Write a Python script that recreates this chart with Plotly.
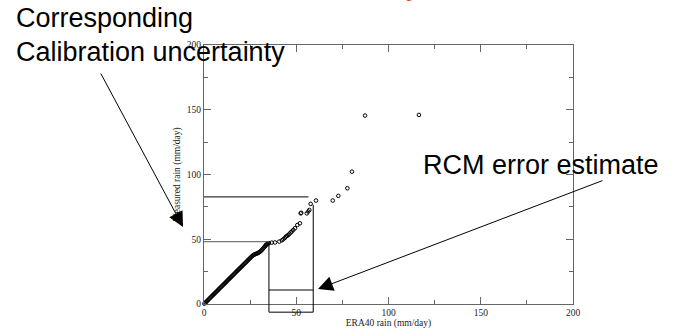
import plotly.graph_objects as go

# ---- data ----
era40 = [0.2, 0.6, 1.0, 1.5, 2.0, 2.5, 3.0, 3.5, 4.0, 4.5, 5.0, 5.5, 6.0, 6.5, 7.0, 7.5,
         8.0, 8.5, 9.0, 9.5, 10.0, 10.5, 11.0, 11.5, 12.0, 12.5, 13.0, 13.5, 14.0, 14.5,
         15.0, 15.5, 16.0, 16.5, 17.0, 17.5, 18.0, 18.5, 19.0, 19.5, 20.0, 20.5, 21.0,
         21.5, 22.0, 22.5, 23.0, 23.5, 24.0, 24.5, 25.0, 25.5, 26.0, 26.5, 27.0, 27.5,
         28.0, 28.5, 29.0, 29.5, 30.0, 30.5, 31.0, 31.5, 32.0, 32.5, 33.0, 33.3, 33.6,
         34.0, 34.4, 34.8, 35.2,
         36.7, 38.5, 40.8, 42.2, 43.0, 43.8, 44.4, 45.0, 45.7, 46.3, 47.0, 47.6, 48.4,
         49.3, 50.6, 52.0, 52.4, 52.7, 55.7, 56.5, 57.1, 57.8, 60.7, 69.8, 72.8, 77.7,
         80.2, 87.3, 116.5]
measured = [0.3, 0.8, 1.4, 2.1, 2.8, 3.5, 4.3, 5.0, 5.7, 6.4, 7.1, 7.8, 8.5, 9.2, 9.9, 10.6,
            11.4, 12.1, 12.8, 13.5, 14.2, 14.9, 15.6, 16.3, 17.0, 17.8, 18.5, 19.2, 19.9,
            20.6, 21.3, 22.0, 22.7, 23.4, 24.2, 24.9, 25.6, 26.3, 27.0, 27.7, 28.4, 29.1,
            29.8, 30.5, 31.2, 31.9, 32.6, 33.4, 34.1, 34.8, 35.5, 36.2, 36.9, 37.5, 38.0,
            38.3, 38.6, 38.9, 39.2, 39.6, 40.0, 40.5, 41.2, 42.0, 42.8, 43.6, 44.4, 45.0,
            45.6, 46.1, 46.5, 46.8, 47.0,
            47.4, 47.5, 48.2, 49.2, 50.0, 51.0, 52.0, 52.6, 53.3, 54.2, 55.2, 56.0, 57.2,
            58.5, 61.0, 62.3, 70.0, 70.4, 70.0, 71.4, 72.6, 77.3, 79.9, 79.9, 83.5, 89.4,
            102.2, 145.5, 146.0]

x_ticks = [0, 50, 100, 150, 200]
y_ticks = [0, 50, 100, 150, 200]

# calibration / error-estimate guide values (data units)
calib_high = 82.7      # horizontal line level, upper
calib_low = 48.1       # horizontal line level, lower
era_low = 35.2         # vertical line x, lower
era_high = 59.2        # vertical line x, upper
err_box_top = 10.8     # top of error box
below_axis = -6.3      # bottom of guides (below axis)

X_RANGE = [0, 200]
Y_RANGE = [0, 200]
Y_DOMAIN = [0, 1]


def ypaper(v):
    return Y_DOMAIN[0] + (v - Y_RANGE[0]) / (Y_RANGE[1] - Y_RANGE[0]) * (Y_DOMAIN[1] - Y_DOMAIN[0])


fig = go.Figure()
fig.add_trace(go.Scatter(
    x=era40, y=measured, mode="markers",
    marker=dict(symbol="circle-open", size=3.6, color="black", line=dict(width=1.0, color="black")),
    showlegend=False, hoverinfo="skip", cliponaxis=False))

line_k = dict(color="black", width=1)
shapes = [
    dict(type="line", xref="x", yref="y", x0=0, x1=era_high - 2.6, y0=calib_high, y1=calib_high, line=line_k),
    dict(type="line", xref="x", yref="y", x0=0, x1=era_low, y0=calib_low, y1=calib_low,
         line=dict(color="#555", width=1)),
    dict(type="line", xref="x", yref="y", x0=era_low, x1=era_high, y0=err_box_top, y1=err_box_top, line=line_k),
    dict(type="line", xref="x", yref="paper", x0=era_low, x1=era_low, y0=ypaper(calib_low - 1.0),
         y1=ypaper(below_axis), line=line_k),
    dict(type="line", xref="x", yref="paper", x0=era_high, x1=era_high, y0=ypaper(calib_high - 6.2),
         y1=ypaper(below_axis), line=line_k),
    dict(type="line", xref="x", yref="paper", x0=era_low, x1=era_high, y0=ypaper(below_axis),
         y1=ypaper(below_axis), line=line_k),
]

W, H = 681, 330
ML, MR, MT, MB = 204, 108, 45, 26
PW, PH = W - ML - MR, H - MT - MB


def px(xp):
    return (xp - ML) / PW


def py(yp):
    return (H - MB - yp) / PH


big = dict(family="Liberation Sans, Arial", size=27, color="black")
annotations = [
    dict(text="Corresponding", xref="paper", yref="paper", x=px(14), y=py(18),
         xanchor="left", yanchor="middle", showarrow=False, font=big),
    dict(text="Calibration uncertainty", xref="paper", yref="paper", x=px(14), y=py(52),
         xanchor="left", yanchor="middle", showarrow=False, font=big),
    dict(text="RCM error estimate", xref="paper", yref="paper", x=px(421), y=py(165),
         xanchor="left", yanchor="middle", showarrow=False, font=big),
    dict(text="y", xref="paper", yref="paper", x=px(404), y=py(-13.5),
         xanchor="left", yanchor="middle", showarrow=False,
         font=dict(family="Liberation Sans, Arial", size=27, color="#e04a1a")),
    # arrows
    dict(text="", xref="paper", yref="paper", x=px(183), y=py(227), axref="pixel", ayref="pixel",
         ax=100 - 183, ay=72 - 227, showarrow=True, arrowhead=2, arrowsize=3, arrowwidth=1,
         arrowcolor="black", standoff=0),
    dict(text="", xref="paper", yref="paper", x=px(318), y=py(289), axref="pixel", ayref="pixel",
         ax=604 - 318, ay=180 - 289, showarrow=True, arrowhead=2, arrowsize=3, arrowwidth=1,
         arrowcolor="black", standoff=0),
]

axis_common = dict(
    showgrid=False, zeroline=False, showline=True, mirror="ticks", linecolor="#666", linewidth=1,
    ticks="inside", ticklen=7, tickcolor="#666", tickwidth=1, automargin=False,
    tickfont=dict(family="Liberation Serif, Times New Roman", size=9.5, color="#222"),
    minor=dict(ticks="inside", ticklen=4, tickcolor="#666", dtick=25),
)

fig.update_layout(
    width=W, height=H, margin=dict(l=ML, r=MR, t=MT, b=MB, pad=0),
    paper_bgcolor="white", plot_bgcolor="white",
    shapes=shapes, annotations=annotations, showlegend=False,
    xaxis=dict(range=X_RANGE, tickvals=x_ticks, ticktext=[str(v) for v in x_ticks],
               title=dict(text="ERA40 rain (mm/day)", standoff=0,
                          font=dict(family="Liberation Serif, Times New Roman", size=9.5, color="#222")),
               **axis_common),
    yaxis=dict(range=Y_RANGE, domain=Y_DOMAIN, tickvals=y_ticks, ticktext=[str(v) for v in y_ticks],
               title=dict(text="Measured rain (mm/day)", standoff=4,
                          font=dict(family="Liberation Serif, Times New Roman", size=9.5, color="#222")),
               **axis_common),
)

fig.write_html("out.html")
